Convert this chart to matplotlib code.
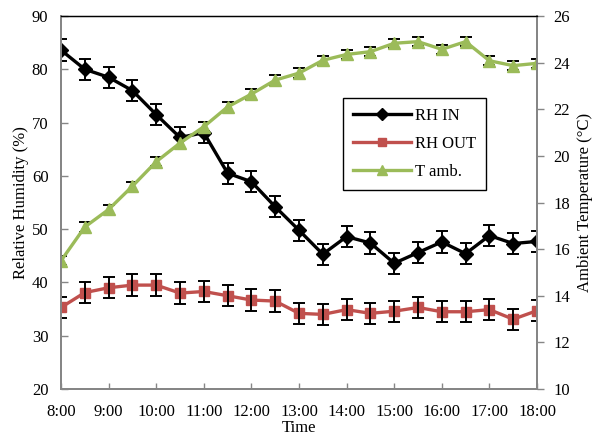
import matplotlib
matplotlib.use("Agg")
from matplotlib import pyplot as plt

plt.rcParams['font.family'] = ['Liberation Serif', 'DejaVu Serif']
plt.rcParams['font.size'] = 12

times = ["8:00", "8:30", "9:00", "9:30", "10:00", "10:30", "11:00", "11:30",
         "12:00", "12:30", "13:00", "13:30", "14:00", "14:30", "15:00", "15:30",
         "16:00", "16:30", "17:00", "17:30", "18:00"]
rh_in = [83.6, 80.0, 78.5, 76.0, 71.5, 67.2, 68.1, 60.5, 58.9, 54.2, 49.8,
         45.3, 48.6, 47.4, 43.6, 45.6, 47.6, 45.4, 48.8, 47.3, 47.7]
rh_out = [35.3, 38.1, 39.0, 39.5, 39.5, 38.0, 38.3, 37.5, 36.7, 36.5, 34.2,
          34.0, 34.9, 34.2, 34.6, 35.3, 34.5, 34.5, 34.9, 33.1, 34.7]
t_amb = [15.5, 16.95, 17.7, 18.7, 19.75, 20.55, 21.25, 22.1, 22.65, 23.25,
         23.55, 24.1, 24.35, 24.47, 24.83, 24.9, 24.57, 24.9, 24.08, 23.87, 23.97]
rh_err = [2.0] * len(times)
t_err = [0.2] * len(times)

hours = [int(t.split(":")[0]) + int(t.split(":")[1]) / 60 for t in times]
tick_hours = list(range(8, 19))
tick_labels = [f"{h}:00" for h in tick_hours]

black = "#000000"
red = "#C0504D"
green = "#9BBB59"
grey = "#868686"

fig = plt.figure(figsize=(5.98, 4.37), dpi=100)
ax = fig.add_axes([0.102, 0.1098, 0.796, 0.8536])
ax2 = ax.twinx()

l1, = ax.plot(hours, rh_in, color=black, lw=2.4, marker="D", ms=7, label="RH IN")
ax.errorbar(hours, rh_in, yerr=rh_err, fmt="none", ecolor=black, elinewidth=1.4, capsize=4, capthick=1.4)
l2, = ax.plot(hours, rh_out, color=red, lw=2.4, marker="s", ms=7, label="RH OUT")
ax.errorbar(hours, rh_out, yerr=rh_err, fmt="none", ecolor=black, elinewidth=1.4, capsize=4, capthick=1.4)

ax2.errorbar(hours, t_amb, yerr=t_err, fmt="none", ecolor=black, elinewidth=1.4, capsize=4, capthick=1.4)
l3, = ax2.plot(hours, t_amb, color=green, lw=2.4, marker="^", ms=9, label="T amb.")

ax.set_xlim(8, 18)
ax.set_ylim(20, 90)
ax2.set_ylim(10, 26)
ax.set_xticks(tick_hours)
ax.set_xticklabels(tick_labels)
ax.set_yticks(range(20, 91, 10))
ax2.set_yticks(range(10, 27, 2))

ax.tick_params(axis="x", direction="in", length=4, width=1, color=grey, pad=11)
ax.tick_params(axis="y", direction="in", length=5, width=1, color=grey, pad=9)
ax2.tick_params(axis="y", direction="out", length=5, width=1, color=grey, pad=7)

for a in (ax, ax2):
    for side in ("left", "right", "bottom"):
        a.spines[side].set_color(grey)
        a.spines[side].set_linewidth(1.4)
    a.spines["top"].set_color(black)
    a.spines["top"].set_linewidth(0.9)

ax.set_xlabel("Time", labelpad=0)
ax.set_ylabel("Relative Humidity (%)", labelpad=2)
ax2.set_ylabel("Ambient Temperature (°C)", labelpad=5)

leg = ax2.legend(handles=[l1, l2, l3], loc="upper left", bbox_to_anchor=(0.592, 0.781),
                 borderaxespad=0, fancybox=False, framealpha=1, edgecolor=black,
                 handlelength=3.5, borderpad=0.6, labelspacing=0.72, handletextpad=0.25,
                 markerscale=0.85)
leg.get_frame().set_linewidth(1.0)

fig.savefig("out.png", dpi=100)
